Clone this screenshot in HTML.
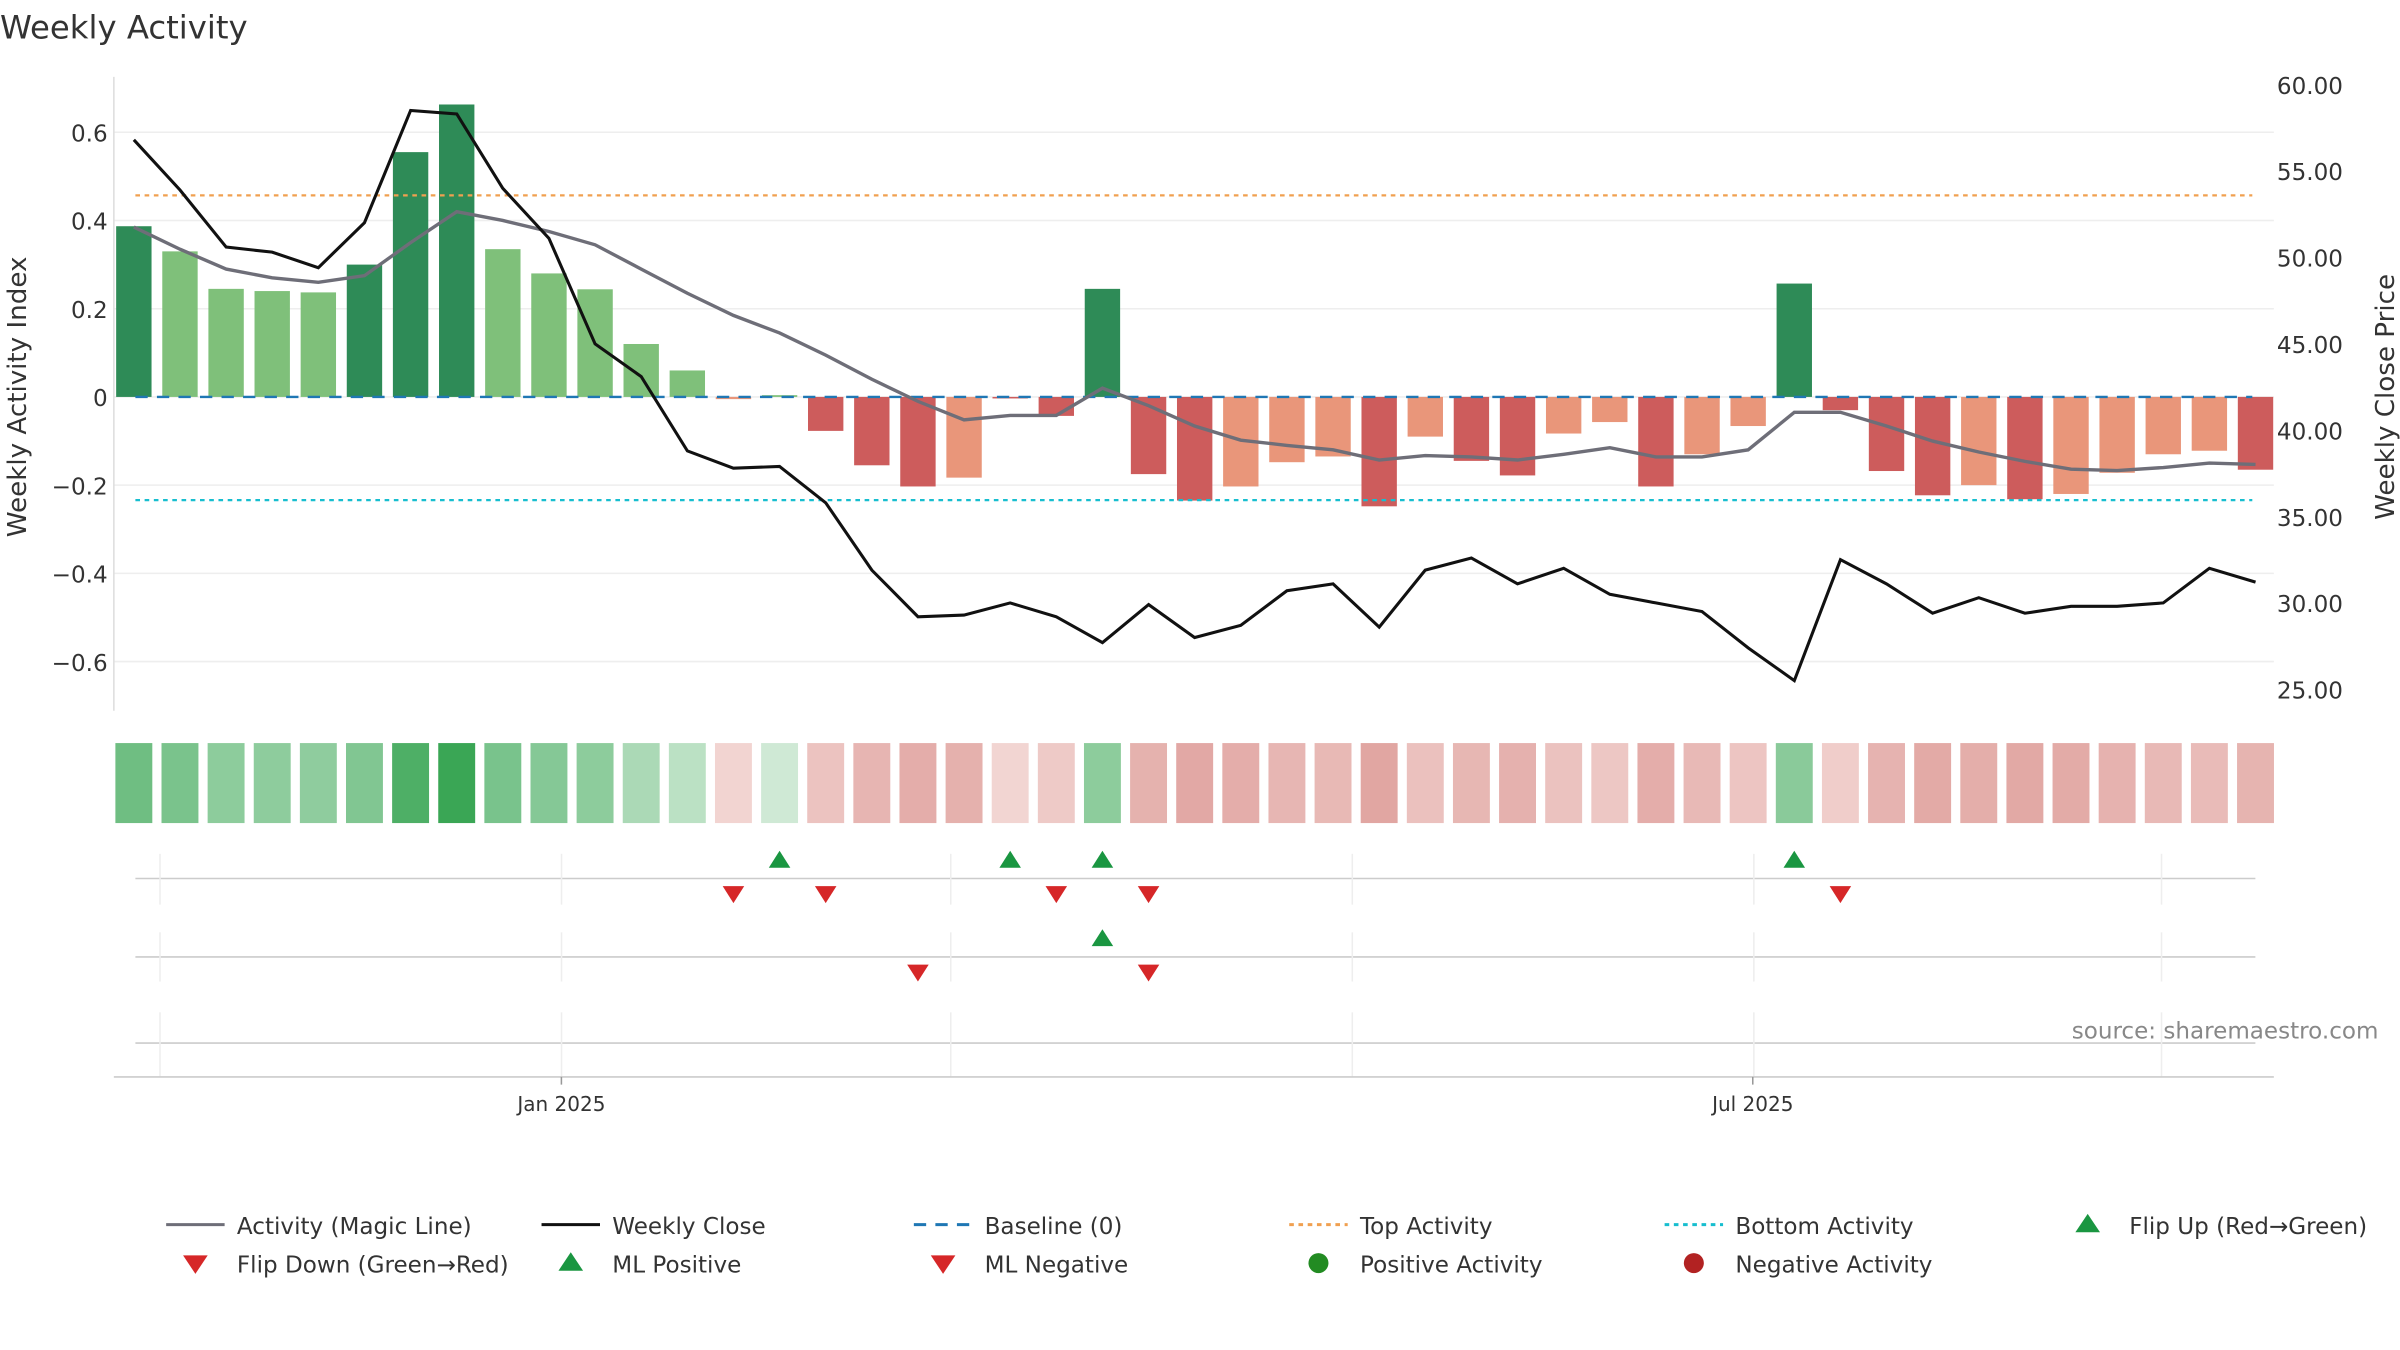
<!DOCTYPE html>
<html><head><meta charset="utf-8"><style>
html,body{margin:0;padding:0;background:#fff;}
svg{display:block;font-family:"DejaVu Sans","Liberation Sans",sans-serif;}
</style></head><body>
<svg id="chart" width="2400" height="1350" viewBox="0 0 1560 877.5" xmlns="http://www.w3.org/2000/svg">
<rect width="1560" height="877.5" fill="#fff"/>
<text x="0" y="25" font-size="21" fill="#333">Weekly Activity</text>
<text transform="translate(17,258) rotate(-90)" text-anchor="middle" font-size="17" fill="#333">Weekly Activity Index</text>
<text transform="translate(1556,258) rotate(-90)" text-anchor="middle" font-size="17" fill="#333">Weekly Close Price</text>
<text x="1546" y="675" text-anchor="end" font-size="15" fill="#888">source: sharemaestro.com</text>
<g id="g"></g>
</svg>
<script>
const activity=[0.387,0.33,0.245,0.24,0.237,0.30,0.555,0.663,0.335,0.28,0.244,0.12,0.06,-0.005,0.004,-0.077,-0.155,-0.203,-0.183,-0.002,-0.043,0.245,-0.175,-0.235,-0.203,-0.148,-0.135,-0.248,-0.09,-0.145,-0.178,-0.083,-0.057,-0.203,-0.13,-0.066,0.257,-0.03,-0.168,-0.223,-0.2,-0.232,-0.22,-0.172,-0.13,-0.122,-0.165];
const strong=[1,0,0,0,0,1,1,1,0,0,0,0,0,0,0,1,1,1,0,1,1,1,1,1,0,0,0,1,0,1,1,0,0,1,0,0,1,1,1,1,0,1,0,0,0,0,1];
const magic=[0.385,0.335,0.29,0.27,0.26,0.275,0.35,0.42,0.40,0.375,0.345,0.29,0.235,0.185,0.145,0.095,0.04,-0.01,-0.052,-0.042,-0.042,0.02,-0.02,-0.066,-0.098,-0.11,-0.12,-0.143,-0.133,-0.136,-0.143,-0.13,-0.115,-0.136,-0.136,-0.12,-0.035,-0.035,-0.066,-0.1,-0.125,-0.146,-0.164,-0.167,-0.16,-0.15,-0.153];
const closes=[56.8,53.9,50.6,50.3,49.4,52.0,58.5,58.3,54.0,51.1,45.0,43.1,38.8,37.8,37.9,35.8,31.9,29.2,29.3,30.0,29.2,27.7,29.9,28.0,28.7,30.7,31.1,28.6,31.9,32.6,31.1,32.0,30.5,30.0,29.5,27.4,25.5,32.5,31.1,29.4,30.3,29.4,29.8,29.8,30.0,32.0,31.2];
const flipUp=[14,19,21,36];
const flipDown=[13,15,20,22,37];
const mlUp=[21];
const mlDown=[17,22];
const leftTicks=[0.6,0.4,0.2,0,-0.2,-0.4,-0.6];
const leftTickLabels=["0.6","0.4","0.2","0","−0.2","−0.4","−0.6"];
const rightTicks=[60,55,50,45,40,35,30,25];
const topLevel=0.457, bottomLevel=-0.234;
const dateTicks=[["Jan 2025",9.27],["Jul 2025",35.1]];

const NS="http://www.w3.org/2000/svg";
const g=document.getElementById('g');
function el(t,a,p){const e=document.createElementNS(NS,t);for(const k in a)e.setAttribute(k,a[k]);(p||g).appendChild(e);return e;}
const x=i=>87+i*29.98;
const yL=v=>258-286.7*v;
const yR=p=>55+(60-p)*11.23;

leftTicks.forEach((v,i)=>{
  const l=el('line',{x1:74,x2:1478,y1:yL(v),y2:yL(v),stroke:'#eee','stroke-width':1});
  
  const t=el('text',{x:70,y:yL(v)+6,'text-anchor':'end','font-size':15,fill:'#333'});t.textContent=leftTickLabels[i];
  
});
rightTicks.forEach(p=>{
  const t=el('text',{x:1480,y:yR(p)+6,'font-size':15,fill:'#333'});t.textContent=p.toFixed(2);
  
});
const sp=el('line',{x1:74,x2:74,y1:50,y2:462,stroke:'#ddd'});


activity.forEach((v,i)=>{
  let c=v>=0?(strong[i]?'#2e8b57':'#7fc07a'):(strong[i]?'#cd5c5c':'#e9967a');
  const y0=yL(Math.max(v,0)),h=Math.max(Math.abs(yL(v)-yL(0)),1);
  const r=el('rect',{x:x(i)-11.5,y:y0,width:23,height:h,fill:c});
  
});
function hline(v,col,dash,name){const l=el('line',{x1:88,x2:1464,y1:yL(v),y2:yL(v),stroke:col,'stroke-width':1.5,'stroke-dasharray':dash});
  }
hline(0,'#1f77b4','8,6','baseline-line');
hline(topLevel,'#f0a050','3,3','top-activity-line');
hline(bottomLevel,'#17becf','3,3','bottom-activity-line');
function path(arr,fx,fy){return arr.map((v,i)=>(i?'L':'M')+fx(i).toFixed(1)+','+fy(v).toFixed(1)).join('');}
const m=el('path',{d:path(magic,x,yL),fill:'none',stroke:'#6e6e78','stroke-width':2.2});

const c=el('path',{d:path(closes,x,yR),fill:'none',stroke:'#111','stroke-width':2});


activity.forEach((v,i)=>{
  const a=Math.min(Math.abs(v)/0.66,1);
  let col;
  if(v>=0){const t=0.12+0.88*Math.pow(a,0.8);col=`rgb(${Math.round(230-(230-58)*t)},${Math.round(244-(244-166)*t)},${Math.round(233-(233-85)*t)})`;}
  else{const tt=Math.min(0.15+0.85*Math.pow(a/0.38,0.8),1);col=`rgb(${Math.round(246-(246-225)*tt)},${Math.round(222-(222-166)*tt)},${Math.round(220-(220-162)*tt)})`;}
  const r=el('rect',{x:x(i)-12,y:483,width:24,height:52,fill:col});
  
});

[571,622,678].forEach(yy=>{const l=el('line',{x1:88,x2:1466,y1:yy,y2:yy,stroke:'#ccc'});
  });
[104,365,618,879,1140,1405].forEach(xx=>{[[555,588],[606,638],[658,700]].forEach(s=>{
  const l=el('line',{x1:xx,x2:xx,y1:s[0],y2:s[1],stroke:'#eee'});
  });});
function tri(cx,cy,up,col,name){const d=up?`M${cx-7},${cy+5}L${cx+7},${cy+5}L${cx},${cy-6}Z`:`M${cx-7},${cy-5}L${cx+7},${cy-5}L${cx},${cy+6}Z`;
  const p=el('path',{d:d,fill:col});}
flipUp.forEach(i=>tri(x(i),559,true,'#1a9641','flip-up-marker'));
flipDown.forEach(i=>tri(x(i),581,false,'#d62728','flip-down-marker'));
mlUp.forEach(i=>tri(x(i),610,true,'#1a9641','ml-positive-marker'));
mlDown.forEach(i=>tri(x(i),632,false,'#d62728','ml-negative-marker'));
const ax=el('line',{x1:74,x2:1478,y1:700,y2:700,stroke:'#ccc'});

dateTicks.forEach(d=>{const xx=x(d[1]);
  const tk=el('line',{x1:xx,x2:xx,y1:700,y2:705,stroke:'#999'});
  const t=el('text',{x:xx,y:722,'text-anchor':'middle','font-size':13,fill:'#333'});t.textContent=d[0];
  });

const leg=[
 [108,796,'line','#6e6e78','','Activity (Magic Line)'],
 [352,796,'line','#111','','Weekly Close'],
 [594,796,'line','#1f77b4','8,6','Baseline (0)'],
 [838,796,'line','#f0a050','3,3','Top Activity'],
 [1082,796,'line','#17becf','3,3','Bottom Activity'],
 [1338,796,'up','#1a9641','','Flip Up (Red→Green)'],
 [108,821,'down','#d62728','','Flip Down (Green→Red)'],
 [352,821,'up','#1a9641','','ML Positive'],
 [594,821,'down','#d62728','','ML Negative'],
 [838,821,'dot','#228b22','','Positive Activity'],
 [1082,821,'dot','#b22222','','Negative Activity']];
leg.forEach(L=>{const [lx,ly,k,col,dash,txt]=L;
  const grp=el('g',{});
  if(k==='line')el('line',{x1:lx,x2:lx+38,y1:ly,y2:ly,stroke:col,'stroke-width':2,'stroke-dasharray':dash},grp);
  else if(k==='dot')el('circle',{cx:lx+19,cy:ly,r:6.5,fill:col},grp);
  else{const cx=lx+19,cy=ly;el('path',{d:k==='up'?`M${cx-8},${cy+5}L${cx+8},${cy+5}L${cx},${cy-7}Z`:`M${cx-8},${cy-5}L${cx+8},${cy-5}L${cx},${cy+7}Z`,fill:col},grp);}
  const t=el('text',{x:lx+46,y:ly+6,'font-size':15,fill:'#333'},grp);t.textContent=txt;});
</script>
</body></html>
